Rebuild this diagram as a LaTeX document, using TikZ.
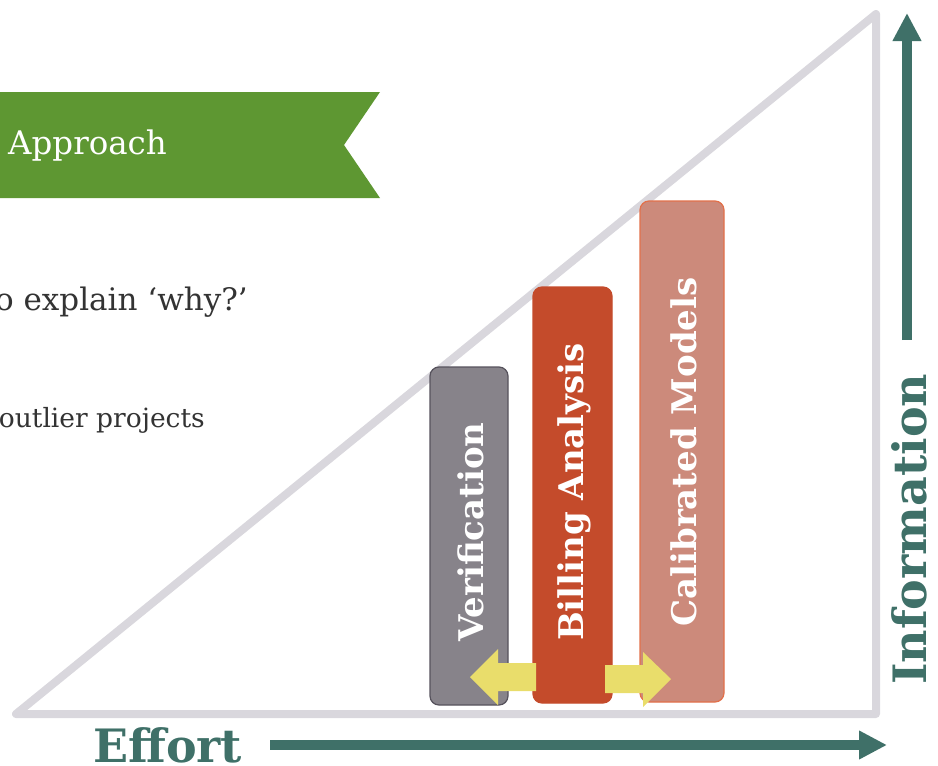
\documentclass[tikz,border=0pt]{standalone}
\usepackage{fontspec}
\setmainfont{DejaVu Serif}
\usepackage{tikz}
\usetikzlibrary{arrows.meta}
\definecolor{bannergreen}{HTML}{5E9732}
\definecolor{wedgegray}{HTML}{D9D7DD}
\definecolor{bodytext}{HTML}{333333}
\definecolor{axisteal}{HTML}{3F7068}
\definecolor{verifgray}{HTML}{87838A}
\definecolor{verifedge}{HTML}{56525C}
\definecolor{billred}{HTML}{C44B2B}
\definecolor{calibpink}{HTML}{CC8A7B}
\definecolor{calibedge}{HTML}{E2704A}
\definecolor{swapyellow}{HTML}{E9DD6B}

\begin{document}
\begin{tikzpicture}[x=1pt, y=-1pt,
  bar/.style={rounded corners=9pt, line width=1.2pt},
  barlabel/.style={rotate=90, text=white, font=\fontsize{34}{34}\selectfont\bfseries},
  axisarrow/.style={axisteal, line width=10pt, -{Triangle[length=28pt,width=27pt]}},
  axislabel/.style={text=axisteal, font=\fontsize{46}{46}\selectfont\bfseries}]
\useasboundingbox (0,0) rectangle (938,766);
\draw[wedgegray, line width=8pt, line join=round] (16,714) -- (876,714) -- (876,14) -- cycle;
\fill[bannergreen] (0,92) -- (380,92) -- (344,145) -- (380,198) -- (0,198) -- cycle;
\node[anchor=base west, inner sep=0pt, text=white, font=\fontsize{32.5}{33}\selectfont] (approach) at (8,154) {Approach};
\node[anchor=base east, inner sep=0pt, text=bodytext, font=\fontsize{31}{31}\selectfont] (why) at (248,310) {o explain ‘why?’};
\node[anchor=base east, inner sep=0pt, text=bodytext, font=\fontsize{26.5}{27}\selectfont] (outlier) at (205,427) {outlier projects};
\filldraw[bar, fill=verifgray, draw=verifedge] (430,367) rectangle (508,705);
\filldraw[bar, fill=billred, draw=billred] (533,287) rectangle (612,703);
\filldraw[bar, fill=calibpink, draw=calibedge] (640,201) rectangle (724,702);
\node[barlabel] (verif) at (471,532) {Verification};
\node[barlabel] (billing) at (574,492) {Billing Analysis};
\node[barlabel] (calib) at (684,452) {Calibrated Models};
\fill[swapyellow] (536,663) -- (498,663) -- (498,649) -- (470,677) -- (498,705) -- (498,691) -- (536,691) -- cycle;
\fill[swapyellow] (605,665) -- (643,665) -- (643,652) -- (671,679) -- (643,707) -- (643,693) -- (605,693) -- cycle;
\coordinate (infofoot) at (907,340);
\coordinate (infotip) at (907,13);
\coordinate (effortfoot) at (270,745);
\coordinate (efforttip) at (887,745);
\draw[axisarrow] (infofoot) -- (infotip);
\draw[axisarrow] (effortfoot) -- (efforttip);
\node[axislabel, anchor=base west, inner sep=0pt, text depth=0pt] (effort) at (93,762) {Effort};
\node[axislabel, anchor=base west, inner sep=0pt, rotate=90] (info) at (926,685) {Information};
\end{tikzpicture}
\end{document}
